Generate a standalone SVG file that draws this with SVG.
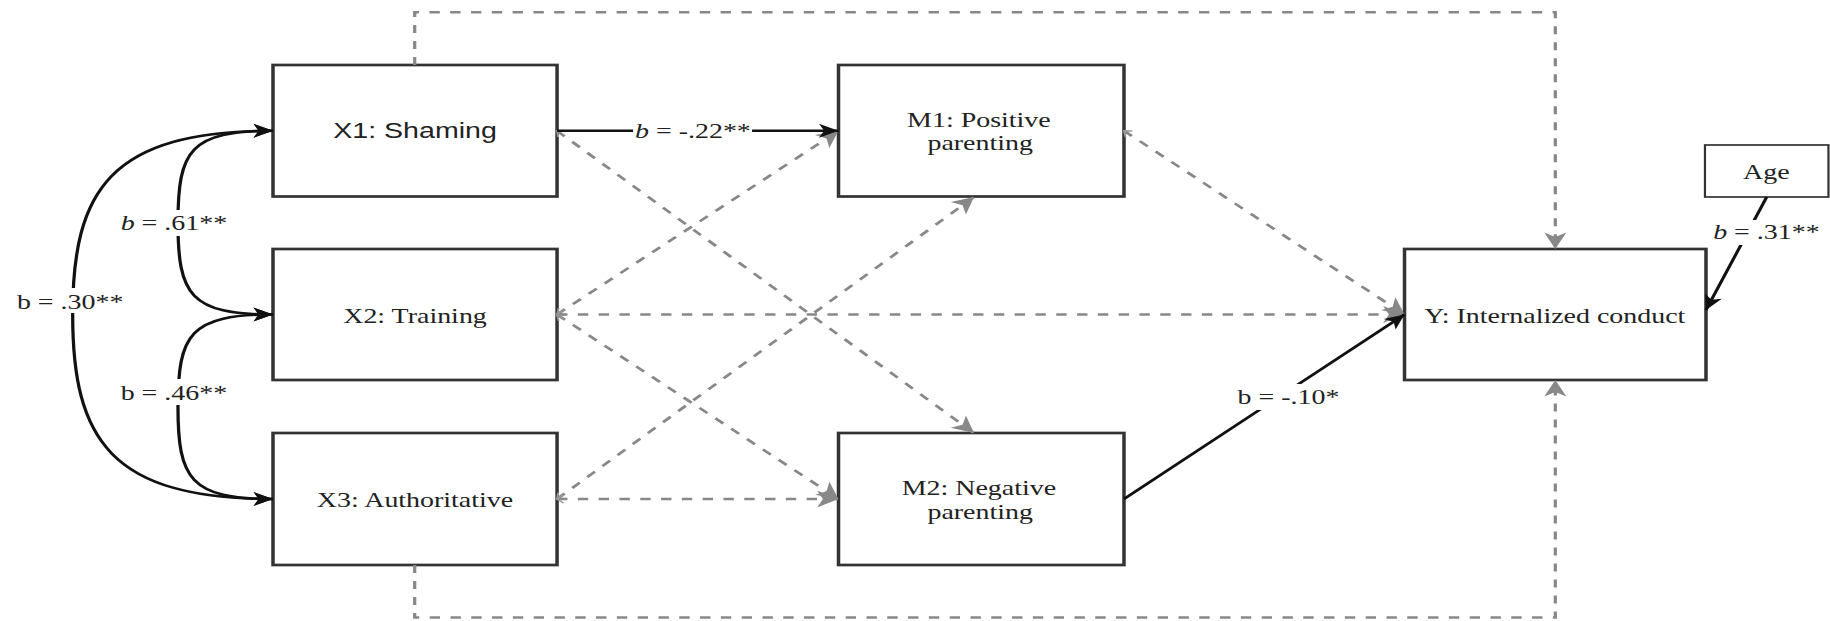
<svg xmlns="http://www.w3.org/2000/svg" width="1830" height="621" viewBox="0 0 1830 621">
  <style>
    .box { fill: #fff; stroke: #333; stroke-width: 2.7; }
    .small { fill: #fff; stroke: #333; stroke-width: 1.7; }
    .t { font-family: "Liberation Serif", "Times New Roman", serif; font-size: 21.5px; fill: #222; text-anchor: middle; }
    .sans { font-family: "Liberation Sans", Arial, sans-serif; font-size: 22px; }
    .i { font-style: italic; }
    .solid { fill: none; stroke: #111; stroke-width: 2.5; }
    .dash { fill: none; stroke: #888; stroke-width: 2.5; stroke-dasharray: 8 8; }
    .bg { fill: #fff; }
  </style>
  <defs>
    <marker id="arrowBlack" markerUnits="userSpaceOnUse" markerWidth="20" markerHeight="20" refX="0" refY="0" orient="auto-start-reverse" overflow="visible">
      <path d="M0,0 L-15,-7 L-11,0 L-15,7 Z" fill="#111"/>
    </marker>
    <marker id="arrowGray" markerUnits="userSpaceOnUse" markerWidth="20" markerHeight="20" refX="0" refY="0" orient="auto" overflow="visible">
      <path d="M0,0 L-16.5,-8.5 L-12,0 L-16.5,8.5 Z" fill="#888"/>
    </marker>
    <marker id="tail" markerUnits="userSpaceOnUse" markerWidth="10" markerHeight="10" refX="0" refY="0" orient="auto" overflow="visible">
      <path d="M5,-4 L0,0 L5,4" fill="none" stroke="#999" stroke-width="1.5"/>
    </marker>
  </defs>

  <!-- whole layout is drawn in a horizontally widened frame -->
  <g transform="scale(1.3,1)">

    <g id="node-x1">
      <rect class="box" x="210" y="65" width="218.5" height="131.5"/>
      <text class="t sans" x="319.25" y="137.7">X1: Shaming</text>
    </g>
    <g id="node-x2">
      <rect class="box" x="210" y="249" width="218.5" height="131"/>
      <text class="t" x="319.25" y="322.7">X2: Training</text>
    </g>
    <g id="node-x3">
      <rect class="box" x="210" y="433" width="218.5" height="132"/>
      <text class="t" x="319.25" y="507.3">X3: Authoritative</text>
    </g>
    <g id="node-m1">
      <rect class="box" x="645" y="65" width="219.6" height="131.5"/>
      <text class="t" x="753" y="126.7">M1: Positive</text>
      <text class="t" x="754" y="150.5">parenting</text>
    </g>
    <g id="node-m2">
      <rect class="box" x="645" y="433" width="219.6" height="132"/>
      <text class="t" x="753" y="495">M2: Negative</text>
      <text class="t" x="754" y="519.5">parenting</text>
    </g>
    <g id="node-y">
      <rect class="box" x="1080.4" y="249" width="231.9" height="131"/>
      <text class="t" x="1196" y="322.7">Y: Internalized conduct</text>
    </g>
    <g id="node-age">
      <rect class="small" x="1311.5" y="145" width="95" height="52"/>
      <text class="t" x="1358.7" y="179">Age</text>
    </g>

    <g id="connectors">
      <!-- non-significant paths (dashed) -->
      <path class="dash" d="M319,65 V12.3 H1196.4 V249" marker-end="url(#arrowGray)"/>
      <path class="dash" d="M319,565 V617.5 H1196.4 V380" marker-end="url(#arrowGray)"/>
      <path class="dash" d="M428.5,130.8 L749.2,433" marker-start="url(#tail)" marker-end="url(#arrowGray)"/>
      <path class="dash" d="M428.5,314.5 L645,130.8" marker-start="url(#tail)" marker-end="url(#arrowGray)"/>
      <path class="dash" d="M428.5,314.5 L645,499" marker-start="url(#tail)" marker-end="url(#arrowGray)"/>
      <path class="dash" d="M428.5,499 L749.2,197" marker-start="url(#tail)" marker-end="url(#arrowGray)"/>
      <path class="dash" d="M428.5,499 L645,499" marker-start="url(#tail)" marker-end="url(#arrowGray)"/>
      <path class="dash" d="M428.5,314.5 L1080.4,314.5" marker-start="url(#tail)" marker-end="url(#arrowGray)"/>
      <path class="dash" d="M864.6,130.8 L1080.4,314.5" marker-start="url(#tail)" marker-end="url(#arrowGray)"/>

      <!-- covariances between predictors -->
      <path class="solid" d="M210,130.8 C84.6,130.8 55.9,190 55.9,314.5 C55.9,439 84.6,499 210,499" marker-start="url(#arrowBlack)" marker-end="url(#arrowBlack)"/>
      <path class="solid" d="M210,130.8 C146.2,130.8 136.9,150 136.9,222.6 C136.9,295 146.2,314.5 210,314.5" marker-start="url(#arrowBlack)" marker-end="url(#arrowBlack)"/>
      <path class="solid" d="M210,314.5 C146.2,314.5 136.9,334 136.9,406.8 C136.9,479 146.2,499 210,499" marker-start="url(#arrowBlack)" marker-end="url(#arrowBlack)"/>

      <!-- significant paths -->
      <path class="solid" d="M428.5,130.8 L645,130.8" marker-end="url(#arrowBlack)"/>
      <path class="solid" d="M864.6,499 L1080.4,314.5" marker-end="url(#arrowBlack)"/>
      <path class="solid" d="M1359,197 L1312.3,310" marker-end="url(#arrowBlack)"/>

      <!-- path labels -->
      <g id="label-x1-m1">
        <rect class="bg" x="487" y="119" width="91.5" height="24"/>
        <text class="t" x="533" y="138"><tspan class="i">b</tspan> = -.22**</text>
      </g>
      <g id="label-x1-x2">
        <rect class="bg" x="92" y="210" width="83" height="26"/>
        <text class="t" x="133.8" y="230"><tspan class="i">b</tspan> = .61**</text>
      </g>
      <g id="label-x2-x3">
        <rect class="bg" x="92" y="379" width="83" height="26"/>
        <text class="t" x="133.8" y="400">b = .46**</text>
      </g>
      <g id="label-x1-x3">
        <rect class="bg" x="12" y="288" width="84" height="25"/>
        <text class="t" x="54" y="309.3">b = .30**</text>
      </g>
      <g id="label-m2-y">
        <rect class="bg" x="953" y="384" width="78" height="26"/>
        <text class="t" x="991.2" y="404">b = -.10*</text>
      </g>
      <g id="label-age-y">
        <rect class="bg" x="1317" y="220" width="83" height="25"/>
        <text class="t" x="1358.8" y="239.3"><tspan class="i">b</tspan> = .31**</text>
      </g>
    </g>
  </g>
</svg>
